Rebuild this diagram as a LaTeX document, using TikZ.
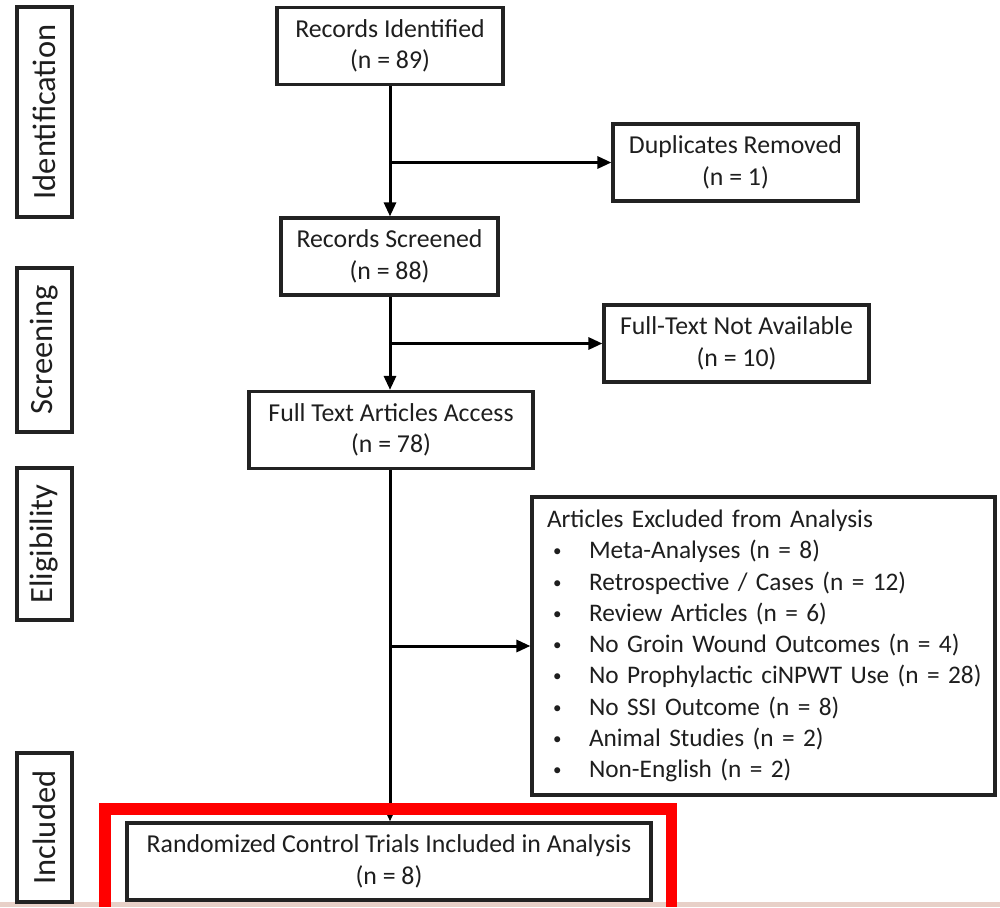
\documentclass[tikz,border=0pt]{standalone}
\usepackage{fontspec}
\setmainfont{Carlito}
\usetikzlibrary{arrows.meta}
\definecolor{boxline}{HTML}{222222}
\definecolor{txt}{HTML}{1E1E1E}
\definecolor{strip}{RGB}{232,208,200}
\definecolor{hl}{RGB}{255,0,0}
\newcommand{\bul}[1]{\mbox{\hspace*{6pt}\makebox[36pt][l]{\raisebox{2pt}{\fontsize{17}{17}\selectfont •}}#1}}
\tikzset{
  box/.style={draw=boxline, line width=3.2pt, fill=white, text=txt, align=center,
    minimum height=77pt, inner sep=0pt, font=\fontsize{25.8}{31.5}\selectfont},
  phase/.style={draw=boxline, line width=3.2pt, fill=white, text=txt, rotate=90,
    minimum height=55pt, inner sep=0pt, font=\fontsize{32.5}{38}\selectfont},
  arr/.style={draw=black, line width=3pt, -{Triangle[length=14pt,width=12pt]}},
}
\begin{document}
\begin{tikzpicture}[x=1pt,y=-1pt]
\useasboundingbox (0,0) rectangle (1000,907);
\fill[white] (0,0) rectangle (1000,907);
\fill[strip] (0,902) rectangle (1000,907);

% phase labels
\node[phase, minimum width=210pt] (pid) at (44.5,112) {Identification};
\node[phase, minimum width=164pt] (psc) at (44.5,350) {Screening};
\node[phase, minimum width=152pt] (pel) at (44.5,544) {Eligibility};
\node[phase, minimum width=149pt] (pin) at (44.5,827.5) {Included};

% main boxes
\node[box, minimum width=226pt] (ri) at (390,46) {Records Identified\\(n = 89)};
\node[box, minimum width=245pt] (dup) at (735.5,162.5) {Duplicates Removed\\(n = 1)};
\node[box, minimum width=217pt] (rs) at (389.5,256.5) {Records Screened\\(n = 88)};
\node[box, minimum width=265pt] (fna) at (736.5,343.5) {Full-Text Not Available\\(n = 10)};
\node[box, minimum width=284pt] (fta) at (391,430) {Full Text Articles Access\\(n = 78)};
\node[box, minimum width=463pt, minimum height=298pt, align=left, text width=433pt,
      inner xsep=15pt, font=\fontsize{25.3}{31.3}\selectfont] (excl) at (763.5,646) {%
\mbox{Articles Excluded from Analysis}\\
\bul{Meta-Analyses (n = 8)}\\
\bul{Retrospective / Cases (n = 12)}\\
\bul{Review Articles (n = 6)}\\
\bul{No Groin Wound Outcomes (n = 4)}\\
\bul{No Prophylactic ciNPWT Use (n = 28)}\\
\bul{No SSI Outcome (n = 8)}\\
\bul{Animal Studies (n = 2)}\\
\bul{Non-English (n = 2)}};
\node[box, minimum width=524pt] (rct) at (389,861.5) {Randomized Control Trials Included in Analysis\\(n = 8)};

% connectors
\coordinate (b1) at (390,162.5);
\coordinate (b2) at (390,343.5);
\coordinate (b3) at (390,646);
\draw[arr] (ri.south -| b1) -- (rs.north -| b1);
\draw[arr] (b1) -- (dup.west);
\draw[arr] (rs.south -| b2) -- (fta.north -| b2);
\draw[arr] (b2) -- (fna.west);
\draw[arr] (fta.south -| b3) -- (rct.north -| b3);
\draw[arr] (b3) -- (excl.west);

% red highlight
\draw[hl, line width=11.5pt, line join=miter] (105,907) -- (105,809) -- (671.5,809) -- (671.5,907);
\end{tikzpicture}
\end{document}
